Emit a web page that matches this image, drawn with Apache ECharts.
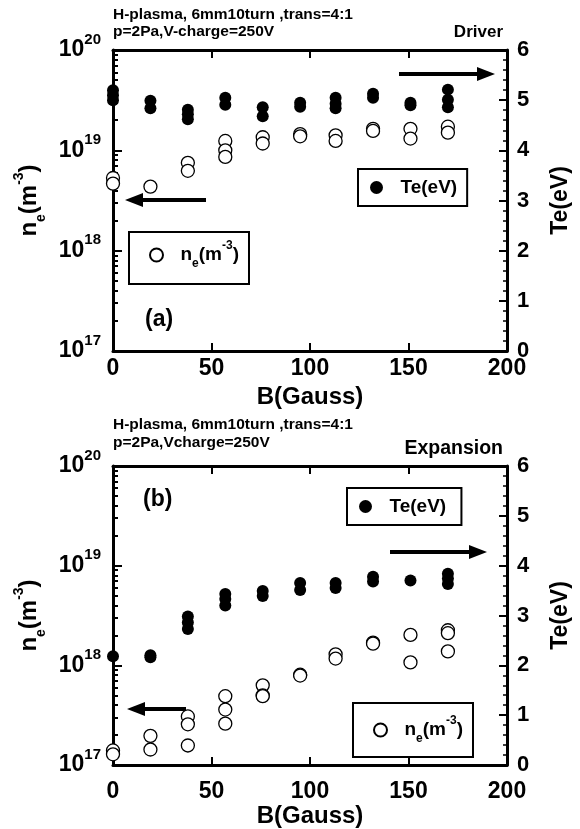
<!DOCTYPE html>
<html><head><meta charset="utf-8">
<script src="https://cdn.jsdelivr.net/npm/echarts@6/dist/echarts.min.js"></script>
<style>html,body{margin:0;padding:0;background:#fff}#c{width:580px;height:829px}</style>
</head><body><div id="c"></div>
<script>
// ---- data ----
const bValues = [0, 19, 38, 57, 76, 95, 113, 132, 151, 170];
const driverTe = [[5.2,5.1,5.0],[4.99,4.84],[4.81,4.72,4.62],[5.05,4.91],[4.86,4.68],[4.95,4.87],[5.05,4.93,4.84],[5.13,5.05],[4.95,4.9],[5.21,5.01,4.86]];
const driverNe = [[5.3e18,4.66e18],[4.35e18],[7.5e18,6.25e18],[1.24e19,1.0e19,8.6e18],[1.35e19,1.17e19],[1.45e19,1.38e19],[1.41e19,1.24e19],[1.64e19,1.56e19],[1.64e19,1.31e19],[1.72e19,1.5e19]];
const expTe = [[2.18],[2.16,2.2],[2.98,2.86,2.73],[3.43,3.33,3.2],[3.49,3.39],[3.65,3.51],[3.65,3.55],[3.78,3.68],[3.7],[3.84,3.74,3.63]];
const expNe = [[1.4e17,1.28e17],[1.96e17,1.43e17],[3.07e17,2.56e17,1.57e17],[4.9e17,3.6e17,2.6e17],[6.3e17,5.0e17,4.9e17],[8.05e17,7.9e17],[1.29e18,1.17e18],[1.69e18,1.65e18],[2.02e18,1.07e18],[2.25e18,2.1e18,1.38e18]];
const xTicks = [0, 50, 100, 150, 200];
const teTicks = [0, 1, 2, 3, 4, 5, 6];
const neDecades = [17, 18, 19, 20];

function pairs(vals){ const out=[]; vals.forEach((g,i)=>g.forEach(v=>out.push([bValues[i], v]))); return out; }
// minor tick positions of the log axis, expressed as log10 values (2..9 x 10^d)
const minorLog = [];
neDecades.slice(0,3).forEach(d=>{ for(let k=2;k<=9;k++) minorLog.push(d + Math.log10(k)); });

const FF = "'Liberation Sans', Arial, sans-serif";
const chart = echarts.init(document.getElementById('c'));

const grids = [
  {left:113, top:50, width:395, height:301},
  {left:113, top:466, width:395, height:308}
];
const lineStyle = {color:'#000', width:3};

function xAxes(gi){
  return [
    {type:'value', gridIndex:gi, min:0, max:200, interval:50, position:'bottom',
     axisLine:{lineStyle}, axisTick:{inside:true, length:8, lineStyle:{width:2,color:'#000'}},
     axisLabel:{color:'#000', fontSize:23, fontWeight:'bold', fontFamily:FF, margin: gi===0?6:15, customValues:xTicks},
     splitLine:{show:false},
     name:'B(Gauss)', nameLocation:'middle', nameGap: gi===0?34:39,
     nameTextStyle:{color:'#000', fontSize:24, fontWeight:'bold', fontFamily:FF}},
    {type:'value', gridIndex:gi, min:0, max:200, interval:50, position:'top',
     axisLine:{lineStyle}, axisTick:{inside:true, length:8, lineStyle:{width:2,color:'#000'}},
     axisLabel:{show:false}, splitLine:{show:false}}
  ];
}
function yAxes(gi){
  return [
    {type:'log', logBase:10, gridIndex:gi, min:1e17, max:1e20, position:'left',
     axisLine:{lineStyle}, axisTick:{inside:true, length:9, lineStyle:{width:2,color:'#000'},
       customValues: neDecades.map(d=>Math.pow(10,d))},
     axisLabel:{margin:12, customValues: neDecades.map(d=>Math.pow(10,d)),
       formatter:v=>'{b|10}{s|'+Math.round(Math.log10(v))+'}',
       rich:{b:{fontSize:23,fontWeight:'bold',fontFamily:FF,color:'#000',verticalAlign:'middle',lineHeight:36},
             s:{fontSize:15,fontWeight:'bold',fontFamily:FF,color:'#000',verticalAlign:'top',lineHeight:36}}},
     splitLine:{show:false},
     name:'{n|n}{e|e}{n|(m}{s|-3}{n|)}', nameLocation:'middle', nameRotate:90, nameGap:55,
     nameTextStyle:{rich:{
       n:{fontSize:24,fontWeight:'bold',fontFamily:FF,color:'#000',verticalAlign:'middle',lineHeight:36},
       e:{fontSize:14,fontWeight:'bold',fontFamily:FF,color:'#000',verticalAlign:'bottom',lineHeight:36},
       s:{fontSize:14,fontWeight:'bold',fontFamily:FF,color:'#000',verticalAlign:'top',lineHeight:36}}}},
    // overlay axis in log10 units, only used to draw the 2..9 minor ticks of the log scale
    {type:'value', gridIndex:gi, min:17, max:20, position:'left',
     axisLine:{show:false}, axisTick:{inside:true, length:5, lineStyle:{width:2,color:'#000'}, customValues:minorLog},
     axisLabel:{show:false}, splitLine:{show:false}},
    {type:'value', gridIndex:gi, min:0, max:6, interval:1, position:'right',
     axisLine:{lineStyle}, axisTick:{inside:true, length:8, lineStyle:{width:2,color:'#000'}},
     minorTick:{show:true, splitNumber:5, length:4, lineStyle:{width:1.5,color:'#000'}},
     axisLabel:{color:'#000', fontSize:22, fontWeight:'bold', fontFamily:FF, margin:10, customValues:teTicks},
     splitLine:{show:false},
     name:'Te(eV)', nameLocation:'middle', nameRotate:90, nameGap:42,
     nameTextStyle:{color:'#000', fontSize:23, fontWeight:'bold', fontFamily:FF}}
  ];
}

const teStyle = {color:'#000', opacity:1};
const neStyle = {color:'#fff', borderColor:'#000', borderWidth:1.3, opacity:1};

const neRich = {
  n:{fontSize:19,fontWeight:'bold',fontFamily:FF,color:'#000',verticalAlign:'middle',lineHeight:30},
  e:{fontSize:12,fontWeight:'bold',fontFamily:FF,color:'#000',verticalAlign:'bottom',lineHeight:30},
  s:{fontSize:12,fontWeight:'bold',fontFamily:FF,color:'#000',verticalAlign:'top',lineHeight:30}
};
function legend(name, left, top, pad){
  return {data:[name], left:left, top:top, orient:'vertical', padding:pad,
    borderColor:'#000', borderWidth:2, itemWidth:22, itemHeight:13, icon:'circle',
    formatter: n => n.indexOf('n_e')===0 ? '{n|n}{e|e}{n|(m}{s|-3}{n|)}' : n,
    textStyle:{color:'#000', fontSize:19, fontWeight:'bold', fontFamily:FF, padding:[0,0,0,8], rich:neRich}};
}

function arrow(x1, x2, y){
  const dir = x2 > x1 ? 1 : -1;
  const headLen = 18, headW = 7;
  return {type:'group', children:[
    {type:'line', shape:{x1:x1, y1:y, x2:x2 - dir*headLen, y2:y}, style:{stroke:'#000', lineWidth:4}},
    {type:'polygon', shape:{points:[[x2,y],[x2-dir*headLen,y-headW],[x2-dir*headLen,y+headW]]}, style:{fill:'#000'}}
  ]};
}
function txt(x, y, text, size, align){
  return {type:'text', x:x, y:y, style:{text:text, fill:'#000', font:'bold '+size+'px '+FF, textAlign:align||'left', textVerticalAlign:'middle'}};
}

const option = {
  animation:false,
  backgroundColor:'#fff',
  grid: grids,
  xAxis: [...xAxes(0), ...xAxes(1)],
  yAxis: [...yAxes(0), ...yAxes(1)],
  legend: [
    legend('Te(eV)', 358, 169, [9,10,9,12]),
    legend('n_e(m^-3)', 129, 232, [8,10,14,20]),
    legend('Te(eV) ', 347, 488, [9,10,9,12]),
    legend('n_e(m^-3) ', 353, 703, [12,10,12,20])
  ],
  series: [
    {name:'n_e(m^-3)', type:'scatter', xAxisIndex:0, yAxisIndex:0, data:pairs(driverNe), symbolSize:13, itemStyle:neStyle, z:3},
    {name:'Te(eV)', type:'scatter', xAxisIndex:0, yAxisIndex:2, data:pairs(driverTe), symbolSize:12, itemStyle:teStyle, z:2},
    {name:'n_e(m^-3) ', type:'scatter', xAxisIndex:2, yAxisIndex:3, data:pairs(expNe), symbolSize:13, itemStyle:neStyle, z:3},
    {name:'Te(eV) ', type:'scatter', xAxisIndex:2, yAxisIndex:5, data:pairs(expTe), symbolSize:12, itemStyle:teStyle, z:2}
  ],
  graphic: [
    txt(113, 15, 'H-plasma, 6mm10turn ,trans=4:1', 15.5),
    txt(113, 32, 'p=2Pa,V-charge=250V', 15.5),
    txt(503, 32, 'Driver', 17, 'right'),
    txt(113, 425, 'H-plasma, 6mm10turn ,trans=4:1', 15.5),
    txt(113, 443, 'p=2Pa,Vcharge=250V', 15.5),
    txt(503, 449, 'Expansion', 19.5, 'right'),
    txt(145, 320, '(a)', 23),
    txt(143, 500, '(b)', 23),
    arrow(399, 495, 74),
    arrow(206, 125, 200),
    arrow(390, 487, 552),
    arrow(186, 127, 709)
  ]
};
chart.setOption(option);
</script></body></html>
